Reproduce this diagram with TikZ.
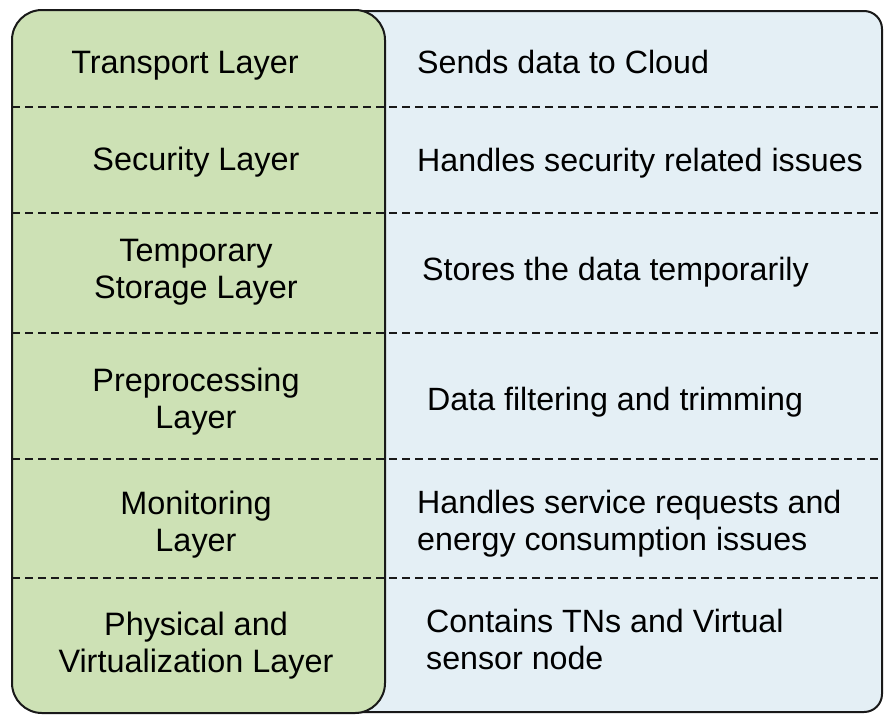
\documentclass[tikz,border=0pt]{standalone}
\usepackage{fontspec}
\setmainfont{Liberation Sans}
\definecolor{layergreen}{RGB}{205,225,181}
\definecolor{descblue}{RGB}{228,239,245}
\definecolor{edgegray}{RGB}{25,25,25}
\tikzset{
  panel/.style={draw=edgegray, line width=2pt},
  sep/.style={draw=edgegray, line width=1.4pt, dash pattern=on 8pt off 5pt},
  lname/.style={font=\fontsize{32.4}{37}\selectfont, align=center, anchor=base, inner sep=0pt},
  ldesc/.style={font=\fontsize{32.2}{37}\selectfont, align=left, anchor=base west, inner sep=0pt},
}
\begin{document}
\begin{tikzpicture}[x=1pt,y=-1pt]
\useasboundingbox (0,0) rectangle (893,726);
\fill[white] (0,0) rectangle (893,726);
% description panel
\filldraw[panel, fill=descblue, rounded corners=18pt] (200,11) rectangle (882,712);
% layer panel
\fill[layergreen, rounded corners=30pt] (12,10) rectangle (385,713);
% separators
\foreach \yy/\nm in {107/s1,213/s2,333/s3,459/s4,578/s5}{
  \coordinate (\nm l) at (12,\yy);
  \coordinate (\nm r) at (881,\yy);
  \draw[sep] (\nm l) -- (\nm r);
}
\draw[panel, rounded corners=30pt] (12,10) rectangle (385,713);
% layer names
\node[lname] (n1) at (185,73) {Transport Layer};
\node[lname] (n2) at (196,170) {Security Layer};
\node[lname] (n3) at (196,298) {Temporary\\Storage Layer};
\node[lname] (n4) at (196,428) {Preprocessing\\Layer};
\node[lname] (n5) at (196,551) {Monitoring\\Layer};
\node[lname] (n6) at (196,672) {Physical and\\Virtualization Layer};
% descriptions
\node[ldesc] (d1) at (417,73) {Sends data to Cloud};
\node[ldesc] (d2) at (417,171) {Handles security related issues};
\node[ldesc] (d3) at (422,280) {Stores the data temporarily};
\node[ldesc] (d4) at (427,410) {Data filtering and trimming};
\node[ldesc] (d5) at (417,550) {Handles service requests and\\energy consumption issues};
\node[ldesc] (d6) at (426,669) {Contains TNs and Virtual\\sensor node};
\end{tikzpicture}
\end{document}
